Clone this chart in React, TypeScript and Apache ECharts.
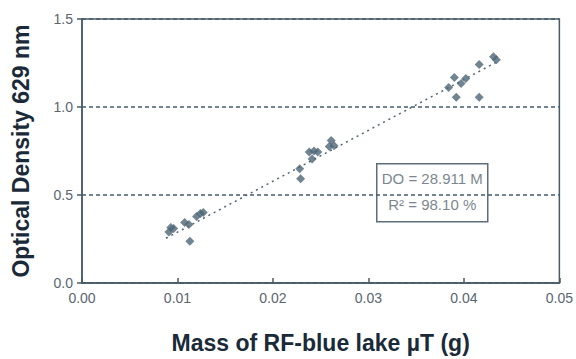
import React, { useEffect, useRef } from "react";
import * as echarts from "echarts";

const massValues: number[] = [
  0.0091, 0.0093, 0.0096, 0.01075, 0.0112, 0.0113, 0.012, 0.0124, 0.0127,
  0.0228, 0.0229, 0.0238, 0.0243, 0.0241, 0.0247, 0.0261, 0.0259, 0.0264,
  0.0384, 0.039, 0.0392, 0.0397, 0.0402, 0.0416, 0.0416, 0.0431, 0.0434,
];
const densityValues: number[] = [
  0.29, 0.315, 0.31, 0.344, 0.333, 0.237, 0.378, 0.395, 0.4,
  0.649, 0.593, 0.745, 0.75, 0.705, 0.745, 0.81, 0.775, 0.78,
  1.111, 1.167, 1.055, 1.134, 1.162, 1.241, 1.055, 1.286, 1.269,
];
const slope = 28.911;
const trendRange: number[] = [0.0088, 0.0437];
const xTicks = { min: 0, max: 0.05, interval: 0.01 };
const yTicks = { min: 0, max: 1.5, interval: 0.5 };
const annotationLines: string[] = ["DO = 28.911 M", "R² = 98.10 %"];

export default function App() {
  const ref = useRef<HTMLDivElement>(null);
  useEffect(() => {
    if (!ref.current) return;
    const chart = echarts.init(ref.current, undefined, { renderer: "svg" });
    const axisColor = "#475b69";
    const labelColor = "#5a6570";
    const font = "Liberation Sans, Arial, sans-serif";
    const pts = massValues.map((x, i) => [x, densityValues[i]]);
    const trend = trendRange.map((x) => [x, slope * x]);
    chart.setOption({
      animation: false,
      backgroundColor: "#ffffff",
      grid: {
        left: 82,
        right: 15,
        top: 19,
        bottom: 74,
        show: true,
        borderColor: axisColor,
        borderWidth: 1.5,
        backgroundColor: "transparent",
      },
      xAxis: {
        type: "value",
        min: xTicks.min,
        max: xTicks.max,
        interval: xTicks.interval,
        name: "Mass of RF-blue lake µT (g)",
        nameLocation: "middle",
        nameGap: 48,
        nameTextStyle: {
          fontFamily: font,
          fontWeight: "bold",
          fontSize: 23,
          color: "#1a2a38",
        },
        axisLine: { show: true, lineStyle: { color: axisColor, width: 1.5 } },
        axisTick: { show: true, inside: true, length: 5, lineStyle: { color: axisColor, width: 1.5 } },
        axisLabel: {
          formatter: (v: number) => v.toFixed(2),
          color: labelColor,
          fontSize: 14,
          fontFamily: font,
          margin: 8,
        },
        splitLine: { show: false },
      },
      yAxis: {
        type: "value",
        min: yTicks.min,
        max: yTicks.max,
        interval: yTicks.interval,
        name: "Optical Density 629 nm",
        nameLocation: "middle",
        nameGap: 50,
        nameTextStyle: {
          fontFamily: font,
          fontWeight: "bold",
          fontSize: 23,
          color: "#1a2a38",
        },
        axisLine: { show: true, lineStyle: { color: axisColor, width: 1.5 } },
        axisTick: { show: true, inside: false, length: 5, lineStyle: { color: axisColor, width: 1.5 } },
        axisLabel: {
          formatter: (v: number) => v.toFixed(1),
          color: labelColor,
          fontSize: 14,
          fontFamily: font,
          margin: 9,
        },
        splitLine: {
          show: true,
          lineStyle: { color: axisColor, width: 1.5, type: [4, 3] },
        },
      },
      series: [
        {
          type: "line",
          data: trend,
          showSymbol: false,
          symbol: "none",
          lineStyle: { color: "#4f6676", width: 1.5, type: [2, 4] },
          z: 1,
        },
        {
          type: "scatter",
          data: pts,
          symbol: "diamond",
          symbolSize: 9,
          itemStyle: { color: "#4d6576" },
          z: 3,
        },
      ],
      graphic: [
        {
          type: "group",
          left: 376,
          top: 163,
          z: 10,
          children: [
            {
              type: "rect",
              shape: { x: 0, y: 0, width: 111, height: 58 },
              style: { fill: "#ffffff", stroke: "#5d6e7a", lineWidth: 1.5 },
            },
            {
              type: "text",
              x: 55.5,
              y: 15,
              style: {
                text: annotationLines[0],
                fill: "#7c8790",
                fontSize: 15,
                fontFamily: font,
                align: "center",
                verticalAlign: "middle",
              },
            },
            {
              type: "text",
              x: 55.5,
              y: 41,
              style: {
                text: annotationLines[1],
                fill: "#7c8790",
                fontSize: 15,
                fontFamily: font,
                align: "center",
                verticalAlign: "middle",
              },
            },
          ],
        },
      ],
    });
    return () => chart.dispose();
  }, []);
  return <div ref={ref} style={{ width: 576, height: 359, position: "absolute", left: 0, top: 0 }} />;
}
